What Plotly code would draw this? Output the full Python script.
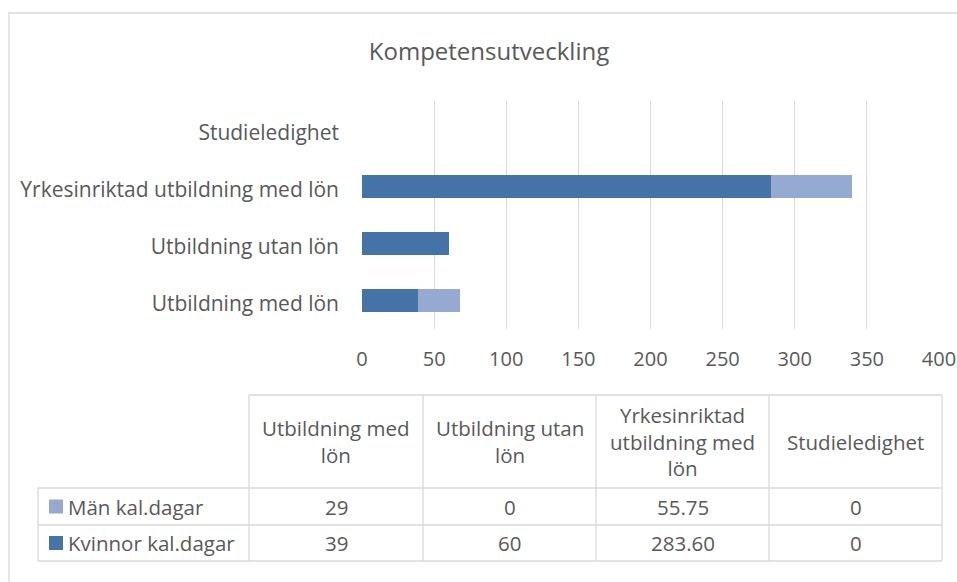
import plotly.graph_objects as go

# ---- data ----
categories = ["Utbildning med lön", "Utbildning utan lön",
              "Yrkesinriktad utbildning med lön", "Studieledighet"]
table_headers = ["Utbildning med<br>lön", "Utbildning utan<br>lön",
                 "Yrkesinriktad<br>utbildning med<br>lön", "Studieledighet"]
kvinnor = [39, 60, 283.60, 0]
man = [29, 0, 55.75, 0]
series_names = ["Män kal.dagar", "Kvinnor kal.dagar"]
x_ticks = [0, 50, 100, 150, 200, 250, 300, 350, 400]
title_text = "Kompetensutveckling"

# ---- style ----
W, H = 957, 582
FONT = "Open Sans"
TXT = "#595959"
GRID = "#D9D9D9"
C_KV = "#4573A7"
C_MAN = "#95A9D1"


def px(x):
    return x / W


def py(y):
    return 1 - y / H


def fmt(v):
    return str(int(v)) if float(v).is_integer() else f"{v:.2f}"


fig = go.Figure()
fig.add_trace(go.Bar(y=categories, x=kvinnor, orientation="h", name=series_names[1],
                     marker=dict(color=C_KV, line=dict(width=0)), hoverinfo="skip"))
fig.add_trace(go.Bar(y=categories, x=man, orientation="h", name=series_names[0],
                     marker=dict(color=C_MAN, line=dict(width=0)), hoverinfo="skip"))

shapes = []
annotations = []

# outer chart border
shapes.append(dict(type="rect", xref="paper", yref="paper",
                   x0=px(9), x1=px(970), y0=py(13), y1=py(600),
                   line=dict(color=GRID, width=1.3), layer="below"))

# data table
col_x = [38, 249, 423, 596, 769, 942]
row_y = [395, 488, 525, 561]
lc = dict(color=GRID, width=1.3)
shapes.append(dict(type="line", xref="paper", yref="paper", x0=px(col_x[1]), x1=px(col_x[-1]),
                   y0=py(row_y[0]), y1=py(row_y[0]), line=lc))
for yy in row_y[1:]:
    shapes.append(dict(type="line", xref="paper", yref="paper", x0=px(col_x[0]), x1=px(col_x[-1]),
                       y0=py(yy), y1=py(yy), line=lc))
shapes.append(dict(type="line", xref="paper", yref="paper", x0=px(col_x[0]), x1=px(col_x[0]),
                   y0=py(row_y[1]), y1=py(row_y[-1]), line=lc))
for xx in col_x[1:]:
    shapes.append(dict(type="line", xref="paper", yref="paper", x0=px(xx), x1=px(xx),
                       y0=py(row_y[0]), y1=py(row_y[-1]), line=lc))

tfont = dict(family=FONT, size=20.5, color=TXT)
for i, h in enumerate(table_headers):
    cx = (col_x[i + 1] + col_x[i + 2]) / 2
    cy = (row_y[0] + row_y[1]) / 2
    annotations.append(dict(x=px(cx), y=py(cy), xref="paper", yref="paper", text=h,
                            showarrow=False, xanchor="center", yanchor="middle",
                            font=tfont, align="center"))
rows = [(series_names[0], man, C_MAN), (series_names[1], kvinnor, C_KV)]
for r, (name, vals, col) in enumerate(rows):
    cy = (row_y[r + 1] + row_y[r + 2]) / 2
    shapes.append(dict(type="rect", xref="paper", yref="paper", x0=px(49), x1=px(63),
                       y0=py(cy - 7), y1=py(cy + 7), fillcolor=col, line=dict(width=0)))
    annotations.append(dict(x=px(66), y=py(cy), xref="paper", yref="paper", text=name,
                            showarrow=False, xanchor="left", yanchor="middle", font=tfont))
    for i, v in enumerate(vals):
        cx = (col_x[i + 1] + col_x[i + 2]) / 2
        annotations.append(dict(x=px(cx), y=py(cy), xref="paper", yref="paper", text=fmt(v),
                                showarrow=False, xanchor="center", yanchor="middle", font=tfont))

fig.update_layout(
    width=W, height=H,
    margin=dict(l=0, r=0, t=0, b=0, autoexpand=False),
    paper_bgcolor="white", plot_bgcolor="white",
    barmode="stack", bargap=0.6,
    showlegend=False,
    title=dict(text=title_text, x=px(489), xanchor="center", y=py(52), yanchor="middle",
               font=dict(family=FONT, size=24, color=TXT)),
    xaxis=dict(domain=[px(362), px(939)], range=[0, 400], tickvals=x_ticks,
               showgrid=True, gridcolor=GRID, gridwidth=1.3, zeroline=False,
               showline=False, ticks="", ticklabelstandoff=16, automargin=False,
               tickfont=dict(family=FONT, size=20, color=TXT), fixedrange=True),
    yaxis=dict(domain=[py(329), py(101)], type="category", categoryorder="array",
               categoryarray=categories, range=[-0.5, 3.5],
               showgrid=False, zeroline=False, showline=False, ticks="",
               ticklabelstandoff=22, ticklabelshift=3, automargin=False,
               tickfont=dict(family=FONT, size=21, color=TXT), fixedrange=True),
    shapes=shapes, annotations=annotations,
)

fig.write_html("out.html", config=dict(displayModeBar=False),
               post_script="document.body.style.margin='0';"
                           "document.documentElement.style.overflow='hidden';"
                           "document.body.style.overflow='hidden';")
